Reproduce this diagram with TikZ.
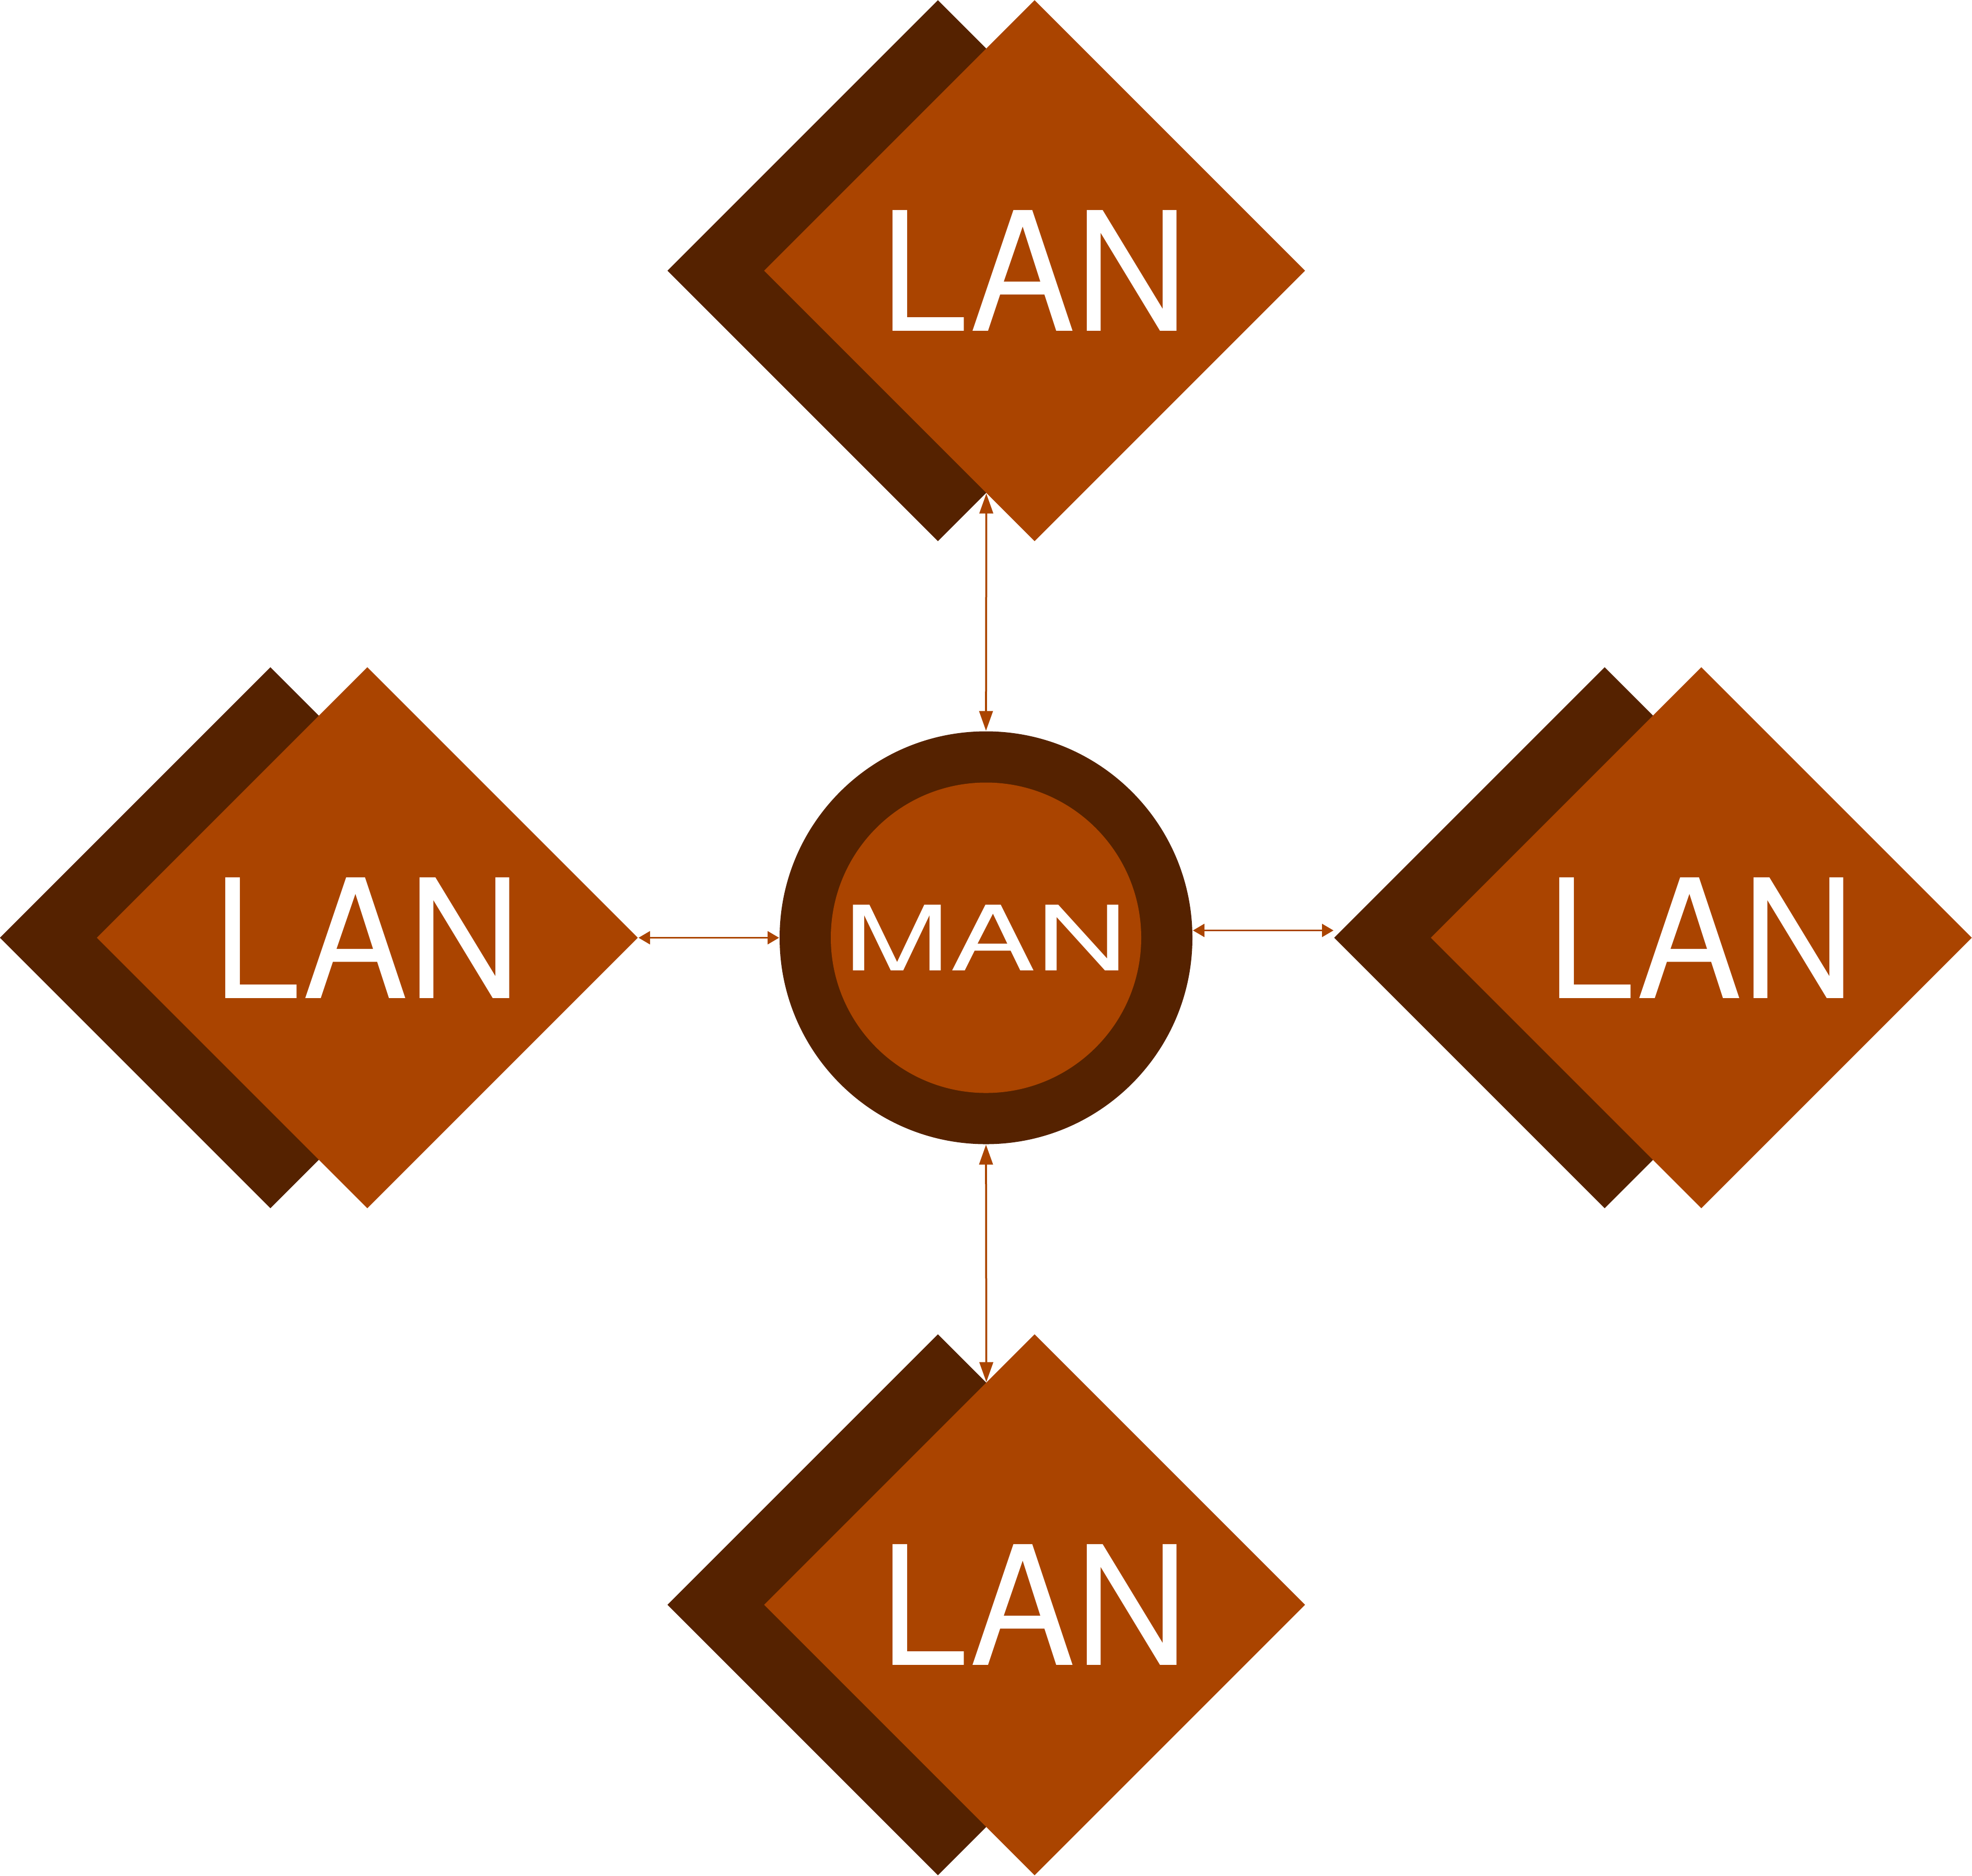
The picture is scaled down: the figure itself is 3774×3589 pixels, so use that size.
\documentclass[tikz,border=0pt]{standalone}
\usepackage{fontspec}
\setmainfont{TeX Gyre Heros}
\usetikzlibrary{shapes.geometric,arrows.meta,calc}
\definecolor{lanorange}{HTML}{AA4400}
\definecolor{landark}{HTML}{552200}
\begin{document}
\begin{tikzpicture}[x=0.2pt,y=-0.2pt,
  dia/.style={diamond,draw=none,inner sep=0pt,minimum width=207.2pt,minimum height=207.2pt,aspect=1},
  darkdia/.style={dia,fill=landark},
  oradia/.style={dia,fill=lanorange},
  lantext/.style={text=white,font=\fontsize{63.4}{70}\selectfont,inner sep=0pt},
  mantext/.style={text=white,font=\fontsize{34.5}{40}\selectfont,inner sep=0pt},
  hlink/.style={draw=lanorange,line width=0.6pt,{Triangle[length=4.4pt,width=5pt]}-{Triangle[length=4.4pt,width=5pt]}},
  vlink/.style={draw=lanorange,line width=0.75pt,{Triangle[length=7.6pt,width=5.2pt]}-{Triangle[length=7.6pt,width=5.2pt]}}]
\useasboundingbox (0,0) rectangle (3774,3589);
% top
\node[darkdia] (topD) at (1795,518) {};
\node[oradia] (topO) at (1980,518) {};
\node[lantext] (topT) at (topO) {\scalebox{0.95}[1]{LAN}};
% left
\node[darkdia] (leftD) at (517.5,1794.5) {};
\node[oradia] (leftO) at (703,1794.5) {};
\node[lantext] (leftT) at (leftO) {\scalebox{0.95}[1]{LAN}};
% right
\node[darkdia] (rightD) at (3071,1794.5) {};
\node[oradia] (rightO) at (3256,1794.5) {};
\node[lantext] (rightT) at (rightO) {\scalebox{0.95}[1]{LAN}};
% bottom
\node[darkdia] (botD) at (1795,3071) {};
\node[oradia] (botO) at (1980,3071) {};
\node[lantext] (botT) at (botO) {\scalebox{0.95}[1]{LAN}};
% MAN
\node[circle,fill=landark,minimum size=158pt,inner sep=0pt] (man) at (1887,1794.5) {};
\node[circle,fill=lanorange,minimum size=118.8pt,inner sep=0pt] (manin) at (man) {};
\node[mantext] (manT) at (man) {\scalebox{1.42}[1]{MAN}};
% connectors
\coordinate (topX) at (intersection of topD.east--topD.south and topO.west--topO.south);
\coordinate (botX) at (intersection of botD.north--botD.east and botO.west--botO.north);
\coordinate (rightA) at ($(rightD.west)+(0,-14)$);
\draw[vlink] (topX) -- (man.north);
\draw[hlink] (leftO.east) -- (man.west);
\draw[hlink] (man.east |- rightA) -- (rightA);
\draw[vlink] (man.south) -- (botX);
\end{tikzpicture}
\end{document}
